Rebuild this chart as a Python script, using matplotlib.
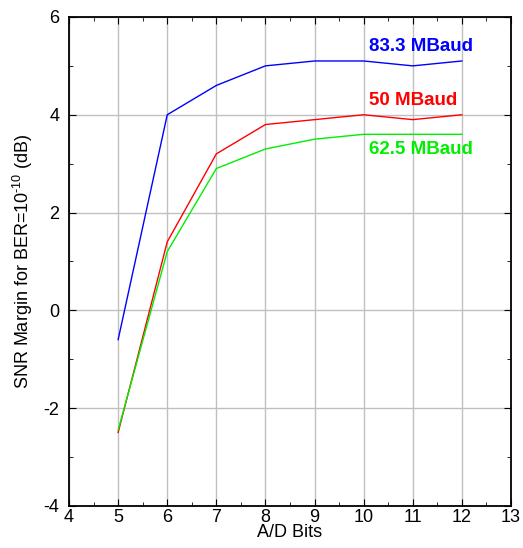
import matplotlib
matplotlib.use("Agg")
from matplotlib import pyplot as plt
from matplotlib.ticker import MultipleLocator

bits = [5, 6, 7, 8, 9, 10, 11, 12]
snr_83 = [-0.6, 4.0, 4.6, 5.0, 5.1, 5.1, 5.0, 5.1]
snr_50 = [-2.5, 1.4, 3.2, 3.8, 3.9, 4.0, 3.9, 4.0]
snr_62 = [-2.45, 1.2, 2.9, 3.3, 3.5, 3.6, 3.6, 3.6]

plt.rcParams["font.family"] = ["Liberation Sans", "DejaVu Sans"]
plt.rcParams["axes.unicode_minus"] = False
plt.rcParams["mathtext.fontset"] = "custom"
plt.rcParams["mathtext.rm"] = "Liberation Sans"
plt.rcParams["mathtext.default"] = "regular"

fig = plt.figure(figsize=(5.23, 5.48), dpi=100)
ax = fig.add_axes([0.132, 0.077, 0.845, 0.892])

ax.plot(bits, snr_83, color="#0000ff", lw=1)
ax.plot(bits, snr_50, color="#ff0000", lw=1)
ax.plot(bits, snr_62, color="#00ee00", lw=1)

ax.text(10.1, 5.4, "83.3 MBaud", color="#0000ff", fontsize=13.5, fontweight="bold", va="center")
ax.text(10.1, 4.3, "50 MBaud", color="#ff0000", fontsize=13.5, fontweight="bold", va="center")
ax.text(10.1, 3.28, "62.5 MBaud", color="#00ee00", fontsize=13.5, fontweight="bold", va="center")

ax.set_xlim(4, 13)
ax.set_ylim(-4, 6)
ax.xaxis.set_major_locator(MultipleLocator(1))
ax.xaxis.set_minor_locator(MultipleLocator(0.5))
ax.yaxis.set_major_locator(MultipleLocator(2))
ax.yaxis.set_minor_locator(MultipleLocator(1))
ax.grid(True, which="major", color="#c0c0c0", lw=1)
ax.set_axisbelow(True)
ax.tick_params(which="both", direction="in", top=True, right=True, labelsize=13)
ax.tick_params(axis="x", pad=2)
ax.tick_params(axis="y", pad=7)
ax.tick_params(which="major", length=5)
ax.tick_params(which="minor", length=3)
for s in ax.spines.values():
    s.set_linewidth(1.3)

ax.set_xlabel("A/D Bits", fontsize=13, labelpad=-1)
ax.set_ylabel(r"SNR Margin for BER=10$^{\text{-10}}$ (dB)", fontsize=13, labelpad=6)

plt.savefig("out.png", dpi=100)
